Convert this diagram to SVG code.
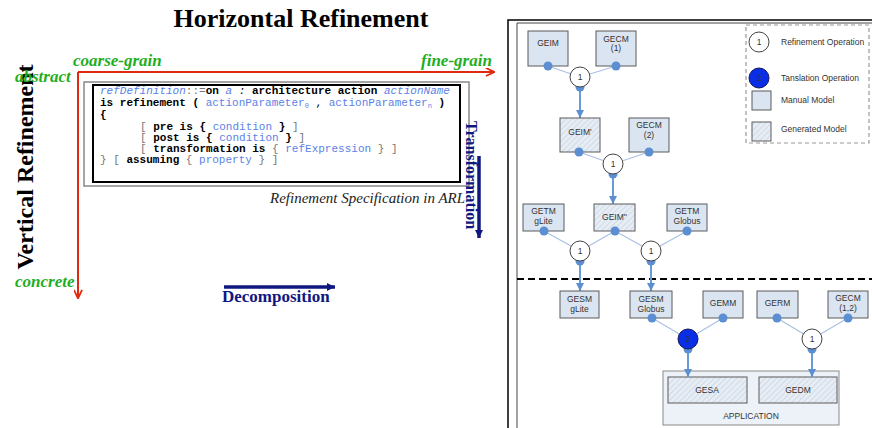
<svg xmlns="http://www.w3.org/2000/svg" width="872" height="428" viewBox="0 0 872 428">
<style>
.ttl{font-family:"Liberation Serif","Times New Roman",serif;font-weight:bold;fill:#000}
.grn{font-family:"Liberation Serif","Times New Roman",serif;font-weight:bold;font-style:italic;font-size:17px;fill:#1fae1f}
.navy{font-family:"Liberation Serif","Times New Roman",serif;font-weight:bold;fill:#10187f}
.cap{font-family:"Liberation Serif","Times New Roman",serif;font-style:italic;font-size:15px;fill:#222}
.code{font-family:"Liberation Mono","Courier New",monospace;font-size:11px;fill:#000}
.kw{font-weight:bold}
.id{fill:#5b82e6}
.it{font-style:italic}
.g{fill:#777}
.lbl{font-family:"Liberation Sans",Arial,sans-serif;font-size:8.5px;fill:#333;text-anchor:middle}
.leg{font-family:"Liberation Sans",Arial,sans-serif;font-size:8.5px;fill:#333}
.man{fill:#dbe5f1;stroke:#5a5a5a;stroke-width:1}
.gen{fill:url(#hatch);stroke:#5a5a5a;stroke-width:1}
.port{fill:#5b8fd2}
.op{fill:#fff;stroke:#444;stroke-width:1}
.tr{fill:#0a2ee6;stroke:#1a1a5a;stroke-width:1}
.link{stroke:#a9c1e2;stroke-width:1.2;fill:none}
.flow{stroke:#6b9bd6;stroke-width:2;fill:none;marker-end:url(#tri)}
.red{stroke:#e02a10;stroke-width:2;fill:none;marker-end:url(#redhead)}
.nv{stroke:#10187f;stroke-width:3.5;fill:none;marker-end:url(#navyhead)}
</style>
<defs>
  <pattern id="hatch" patternUnits="userSpaceOnUse" width="4" height="4" patternTransform="rotate(45)">
    <rect width="4" height="4" fill="#e7edf5"/>
    <line x1="0" y1="0" x2="0" y2="4" stroke="#c3cddb" stroke-width="1.2"/>
  </pattern>
  <marker id="redhead" viewBox="0 0 10 10" refX="9" refY="5" markerUnits="userSpaceOnUse" markerWidth="10" markerHeight="9" orient="auto">
    <path d="M0,0.5 L9.5,5 L0,9.5" fill="none" stroke="#e02a10" stroke-width="2"/>
  </marker>
  <marker id="navyhead" viewBox="0 0 10 10" refX="10" refY="5" markerUnits="userSpaceOnUse" markerWidth="8" markerHeight="10" orient="auto">
    <path d="M0,0 L10,5 L0,10 Z" fill="#10187f"/>
  </marker>
  <marker id="tri" viewBox="0 0 10 10" refX="10" refY="5" markerUnits="userSpaceOnUse" markerWidth="8" markerHeight="9" orient="auto">
    <path d="M0,0 L10,5 L0,10 Z" fill="#5b8fd2"/>
  </marker>
</defs>

<!-- ===== Refinement axes ===== -->
<g id="horizontal-title">
  <text class="ttl" x="301" y="27" font-size="26" text-anchor="middle">Horizontal Refinement</text>
</g>
<g id="vertical-title">
  <text class="ttl" font-size="24" text-anchor="middle" transform="translate(33,167) rotate(-90)">Vertical Refinement</text>
</g>
<g id="axes">
  <line class="red" x1="78" y1="72" x2="494" y2="72"/>
  <line class="red" x1="78" y1="72" x2="78" y2="298"/>
</g>
<g id="axis-labels">
  <text class="grn" x="73" y="66">coarse-grain</text>
  <text class="grn" x="421" y="66">fine-grain</text>
  <text class="grn" x="15" y="82">abstract</text>
  <text class="grn" x="15" y="287">concrete</text>
</g>

<!-- ===== ARL refinement specification ===== -->
<g id="arl-spec">
  <rect x="84" y="82" width="385" height="104" fill="#fff" stroke="#888" stroke-width="1.5"/>
  <rect x="93" y="85" width="367" height="97" fill="#fff" stroke="#000" stroke-width="2"/>
  <text class="code" x="100" y="94"><tspan class="id it">refDefinition</tspan><tspan class="g">::=</tspan><tspan class="kw">on</tspan> <tspan class="id it">a</tspan> <tspan class="it">:</tspan> <tspan class="kw">architecture action</tspan> <tspan class="id it">actionName</tspan></text>
  <text class="code" x="100" y="106"><tspan class="kw">is refinement (</tspan> <tspan class="id">actionParameter<tspan font-size="7" dy="2">0</tspan></tspan> <tspan dy="-2">,</tspan> <tspan class="id">actionParameter<tspan font-size="7" dy="2">n</tspan></tspan> <tspan class="kw" dy="-2">)</tspan></text>
  <text class="code kw" x="100" y="118">{</text>
  <text class="code" x="140" y="130"><tspan class="g">[</tspan> <tspan class="kw">pre is {</tspan> <tspan class="id">condition</tspan> <tspan class="kw">}</tspan> <tspan class="g">]</tspan></text>
  <text class="code" x="140" y="141"><tspan class="g">[</tspan> <tspan class="kw">post is {</tspan> <tspan class="id">condition</tspan> <tspan class="kw">}</tspan> <tspan class="g">]</tspan></text>
  <text class="code" x="140" y="152"><tspan class="g">[</tspan> <tspan class="kw">transformation is</tspan> <tspan class="g">{</tspan> <tspan class="id">refExpression</tspan> <tspan class="g">} ]</tspan></text>
  <text class="code" x="100" y="163"><tspan class="g">} [</tspan> <tspan class="kw">assuming</tspan> <tspan class="g">{</tspan> <tspan class="id">property</tspan> <tspan class="g">} ]</tspan></text>
  <text class="cap" x="270" y="203">Refinement Specification in ARL</text>
</g>

<g id="transformation">
  <line class="nv" x1="479" y1="156" x2="479" y2="238"/>
  <text class="navy" font-size="16" text-anchor="middle" transform="translate(466,175) rotate(90)">Transformation</text>
</g>
<g id="decomposition">
  <line class="nv" x1="224" y1="287" x2="335" y2="287"/>
  <text class="navy" x="222" y="302" font-size="17">Decomposition</text>
</g>

<!-- ===== Model refinement chain ===== -->
<g id="frame" fill="none">
  <polyline points="508,428 508,20 872,20" stroke="#000" stroke-width="1.5"/>
  <polyline points="517,428 517,23 872,23" stroke="#444" stroke-width="1"/>
  <line x1="517" y1="279" x2="872" y2="279" stroke="#000" stroke-width="1.8" stroke-dasharray="7,4"/>
</g>

<g id="legend">
  <rect x="746" y="25" width="123" height="118" fill="none" stroke="#999" stroke-width="1.2" stroke-dasharray="4,3"/>
  <circle class="op" cx="759" cy="42" r="10"/>
  <text class="lbl" x="759" y="45">1</text>
  <text class="leg" x="781" y="45">Refinement Operation</text>
  <circle class="tr" cx="759" cy="78" r="10"/>
  <text class="lbl" x="759" y="81" fill="#102070">2</text>
  <text class="leg" x="781" y="81">Tanslation Operation</text>
  <rect class="man" x="752" y="91" width="19" height="19"/>
  <text class="leg" x="781" y="103">Manual Model</text>
  <rect class="gen" x="752" y="122" width="19" height="19"/>
  <text class="leg" x="781" y="132">Generated Model</text>
</g>

<g id="application">
  <rect x="663" y="371" width="176" height="54" fill="#edf1f8" stroke="#8a8a8a" stroke-width="1"/>
  <text class="lbl" x="751" y="419">APPLICATION</text>
  <g id="gesa">
    <rect class="gen" x="668" y="377" width="79" height="26"/>
    <text class="lbl" x="707" y="393">GESA</text>
  </g>
  <g id="gedm">
    <rect class="gen" x="759" y="377" width="78" height="26"/>
    <text class="lbl" x="798" y="393">GEDM</text>
  </g>
</g>

<g id="connectors">
  <line class="link" x1="548" y1="66" x2="580" y2="77"/>
  <line class="link" x1="616" y1="66" x2="580" y2="77"/>
  <line class="flow" x1="580" y1="88" x2="580" y2="118"/>
  <line class="link" x1="579" y1="152" x2="613" y2="164"/>
  <line class="link" x1="649" y1="152" x2="613" y2="164"/>
  <line class="flow" x1="613" y1="175" x2="613" y2="204"/>
  <line class="link" x1="544" y1="231" x2="580" y2="251"/>
  <line class="link" x1="615" y1="231" x2="580" y2="251"/>
  <line class="link" x1="615" y1="231" x2="651" y2="251"/>
  <line class="link" x1="687" y1="231" x2="651" y2="251"/>
  <line class="flow" x1="580" y1="262" x2="580" y2="291"/>
  <line class="flow" x1="651" y1="262" x2="651" y2="291"/>
  <line class="link" x1="652" y1="318" x2="688" y2="339"/>
  <line class="link" x1="723" y1="318" x2="688" y2="339"/>
  <line class="link" x1="777" y1="318" x2="812" y2="339"/>
  <line class="link" x1="848" y1="318" x2="812" y2="339"/>
  <line class="flow" x1="688" y1="350" x2="688" y2="377"/>
  <line class="flow" x1="812" y1="350" x2="812" y2="377"/>
</g>

<g id="geim">
  <rect class="man" x="528" y="31" width="40" height="35"/>
  <text class="lbl" x="548" y="46">GEIM</text>
  <circle class="port" cx="548" cy="66" r="4.5"/>
</g>
<g id="gecm-1">
  <rect class="man" x="596" y="31" width="40" height="35"/>
  <text class="lbl" x="616" y="42">GECM</text>
  <text class="lbl" x="616" y="51">(1)</text>
  <circle class="port" cx="616" cy="66" r="4.5"/>
</g>
<g id="ref-op-a">
  <circle class="port" cx="580" cy="87" r="4.5"/>
  <circle class="op" cx="580" cy="77" r="10"/>
  <text class="lbl" x="580" y="80">1</text>
</g>

<g id="geim-p">
  <rect class="gen" x="560" y="118" width="40" height="34"/>
  <text class="lbl" x="580" y="135">GEIM'</text>
  <circle class="port" cx="579" cy="152" r="4.5"/>
</g>
<g id="gecm-2">
  <rect class="man" x="629" y="118" width="40" height="34"/>
  <text class="lbl" x="649" y="128">GECM</text>
  <text class="lbl" x="649" y="138">(2)</text>
  <circle class="port" cx="649" cy="152" r="4.5"/>
</g>
<g id="ref-op-b">
  <circle class="port" cx="613" cy="174" r="4.5"/>
  <circle class="op" cx="613" cy="164" r="10"/>
  <text class="lbl" x="613" y="167">1</text>
</g>

<g id="getm-glite">
  <rect class="man" x="523" y="204" width="41" height="27"/>
  <text class="lbl" x="543.5" y="214">GETM</text>
  <text class="lbl" x="543.5" y="224">gLite</text>
  <circle class="port" cx="544" cy="231" r="4.5"/>
</g>
<g id="geim-pp">
  <rect class="gen" x="594" y="204" width="41" height="27"/>
  <text class="lbl" x="614.5" y="220">GEIM''</text>
  <circle class="port" cx="615" cy="231" r="4.5"/>
</g>
<g id="getm-globus">
  <rect class="man" x="667" y="204" width="40" height="27"/>
  <text class="lbl" x="687" y="214">GETM</text>
  <text class="lbl" x="687" y="224">Globus</text>
  <circle class="port" cx="687" cy="231" r="4.5"/>
</g>
<g id="ref-op-c">
  <circle class="port" cx="580" cy="261" r="4.5"/>
  <circle class="op" cx="580" cy="251" r="10"/>
  <text class="lbl" x="580" y="254">1</text>
</g>
<g id="ref-op-d">
  <circle class="port" cx="651" cy="261" r="4.5"/>
  <circle class="op" cx="651" cy="251" r="10"/>
  <text class="lbl" x="651" y="254">1</text>
</g>

<g id="gesm-glite">
  <rect class="man" x="560" y="291" width="39" height="27"/>
  <text class="lbl" x="579.5" y="302">GESM</text>
  <text class="lbl" x="579.5" y="312">gLite</text>
</g>
<g id="gesm-globus">
  <rect class="man" x="630" y="291" width="42" height="27"/>
  <text class="lbl" x="651" y="302">GESM</text>
  <text class="lbl" x="651" y="312">Globus</text>
  <circle class="port" cx="652" cy="318" r="4.5"/>
</g>
<g id="gemm">
  <rect class="man" x="703" y="291" width="40" height="27"/>
  <text class="lbl" x="723" y="306">GEMM</text>
  <circle class="port" cx="723" cy="318" r="4.5"/>
</g>
<g id="germ">
  <rect class="man" x="757" y="291" width="41" height="27"/>
  <text class="lbl" x="777.5" y="306">GERM</text>
  <circle class="port" cx="777" cy="318" r="4.5"/>
</g>
<g id="gecm-12">
  <rect class="man" x="828" y="291" width="40" height="27"/>
  <text class="lbl" x="848" y="301">GECM</text>
  <text class="lbl" x="848" y="311">(1,2)</text>
  <circle class="port" cx="848" cy="318" r="4.5"/>
</g>
<g id="trans-op">
  <circle class="port" cx="688" cy="349" r="4.5"/>
  <circle class="tr" cx="688" cy="339" r="10"/>
  <text class="lbl" x="688" y="342" fill="#102070">2</text>
</g>
<g id="ref-op-e">
  <circle class="port" cx="812" cy="349" r="4.5"/>
  <circle class="op" cx="812" cy="339" r="10"/>
  <text class="lbl" x="812" y="342">1</text>
</g>
</svg>
